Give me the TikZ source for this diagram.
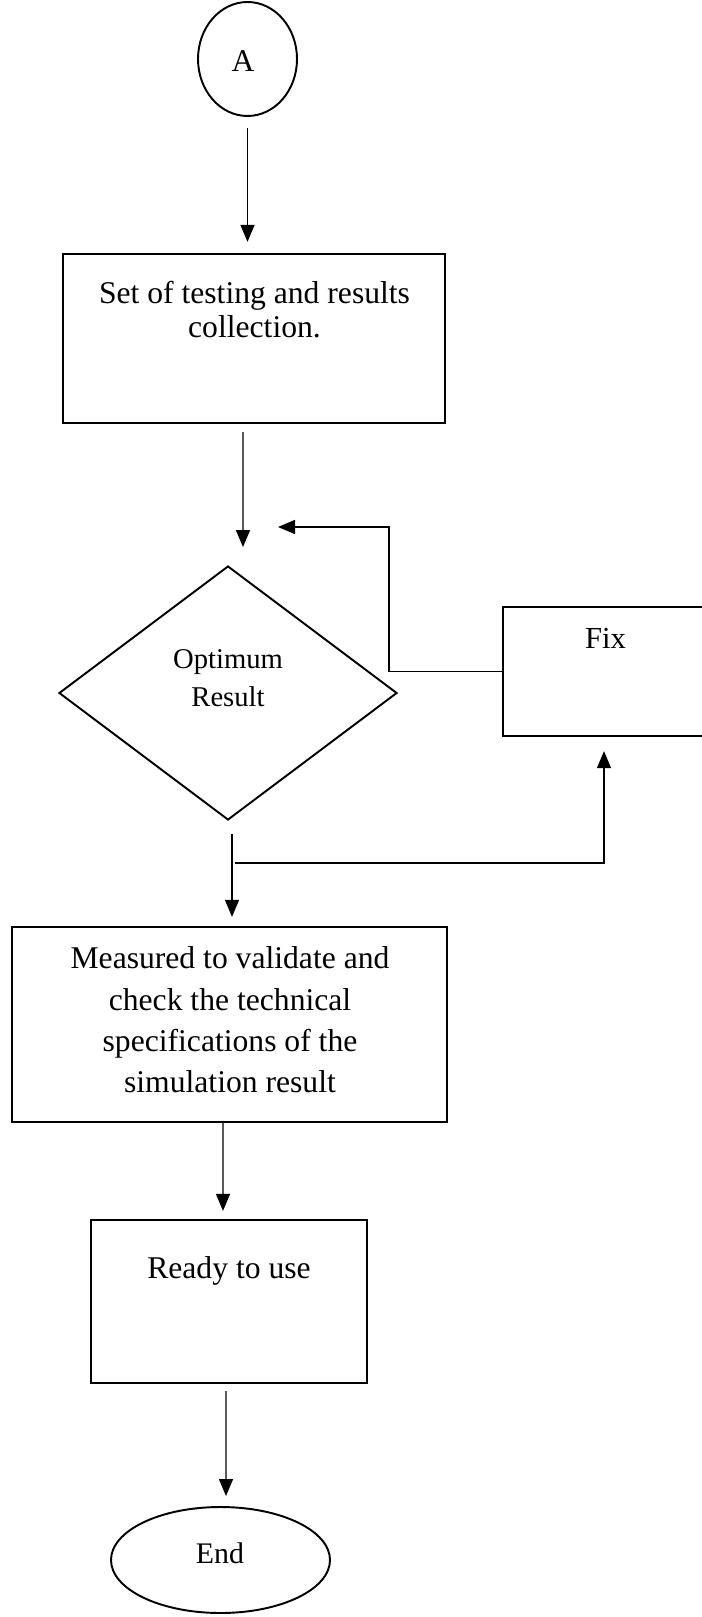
\documentclass[tikz,border=0pt]{standalone}
\usepackage{fontspec}
\setmainfont{Liberation Serif}
\usepackage{tikz}
\usetikzlibrary{calc}
\usetikzlibrary{shapes.geometric}
\usetikzlibrary{arrows.meta}

\begin{document}
\begin{tikzpicture}[>={Triangle[length=.34cm,width=.28cm]},
	box/.style={draw,line width=1.3pt,rectangle,inner sep=0pt},
	oval/.style={draw,line width=1.1pt,ellipse,inner sep=0pt},
	txt/.style={align=center,inner sep=0pt},
	line/.style={line width=.8pt}]
	\clip (0,0) rectangle (14.04,-32.34);
	\fill[white] (0,0) rectangle (14.04,-32.34);
	%		\draw [thin,densely dashed](0,0)grid(14,-32);
	\node[oval,minimum width=1.98cm,minimum height=2.28cm] (A) at (4.95,-1.18) {};
	\node[txt,font=\fontsize{18}{20}\selectfont] (Atxt) at (4.86,-1.22) {A};
	\node[box,minimum width=7.64cm,minimum height=3.38cm] (test) at (5.08,-6.77) {};
	\node[txt,font=\fontsize{18}{19.4}\selectfont] (testtxt) at (5.09,-6.2) {Set of testing and results\\collection.};
	
	\node[draw,line width=1.1pt,diamond,inner sep=0pt,minimum width=6.76cm,minimum height=5.08cm] (opt) at (4.56,-13.86) {};
	\node[txt,font=\fontsize{16.3}{21.6}\selectfont] (opttxt) at (4.56,-13.56) {Optimum\\Result};
	
	\node[box,minimum width=4.18cm,minimum height=2.58cm] (fix) at (12.15,-13.43) {};
	\node[txt,anchor=base,font=\fontsize{17.4}{20}\selectfont] (fixtxt) at (12.11,-12.96) {Fix};
	
	\node[box,minimum width=8.7cm,minimum height=3.9cm] (meas) at (4.59,-20.49) {};
	\node[txt,font=\fontsize{18}{23.5}\selectfont] (meastxt) at (4.6,-20.4) {Measured to validate and\\check the technical\\specifications of the\\simulation result};
	
	\node[box,minimum width=5.52cm,minimum height=3.26cm] (ready) at (4.58,-26.03) {};
	\node[txt,anchor=base,font=\fontsize{18}{20}\selectfont] (readytxt) at (4.58,-25.56) {Ready to use};
	
	\node[oval,minimum width=4.38cm,minimum height=2.12cm] (stop) at (4.41,-31.2) {};
	\node[txt,anchor=base,font=\fontsize{17}{20}\selectfont] (stoptxt) at (4.4,-31.26) {End};
	
	% main flow
	\draw[line,->,shorten <=.22cm,shorten >=.22cm] (A.south) -- (A.south |- test.north);
	\draw[line,->,shorten <=.16cm,shorten >=.36cm] ([xshift=-.22cm]test.south) -- ([xshift=.3cm]opt.north);
	\draw[line,->,shorten <=.26cm,shorten >=.18cm] ([xshift=.08cm]opt.south) -- ([xshift=.05cm]meas.north);
	\draw[line,->,shorten >=.16cm] ([xshift=-.13cm]meas.south) -- ([xshift=-.12cm]ready.north);
	\draw[line,->,shorten <=.14cm,shorten >=.2cm] ([xshift=-.06cm]ready.south) -- ([xshift=.11cm]stop.north);
	
	% loop through Fix
	\coordinate (no) at (4.7,-17.26);
	\coordinate (fb) at (5.56,-10.54);
	\draw[line,->,shorten >=.28cm] (no) -| ([xshift=-.07cm]fix.south);
	\draw[line,->] (fix.west) -- ++(-2.26,0) |- (fb);
	
\end{tikzpicture}
\end{document}
